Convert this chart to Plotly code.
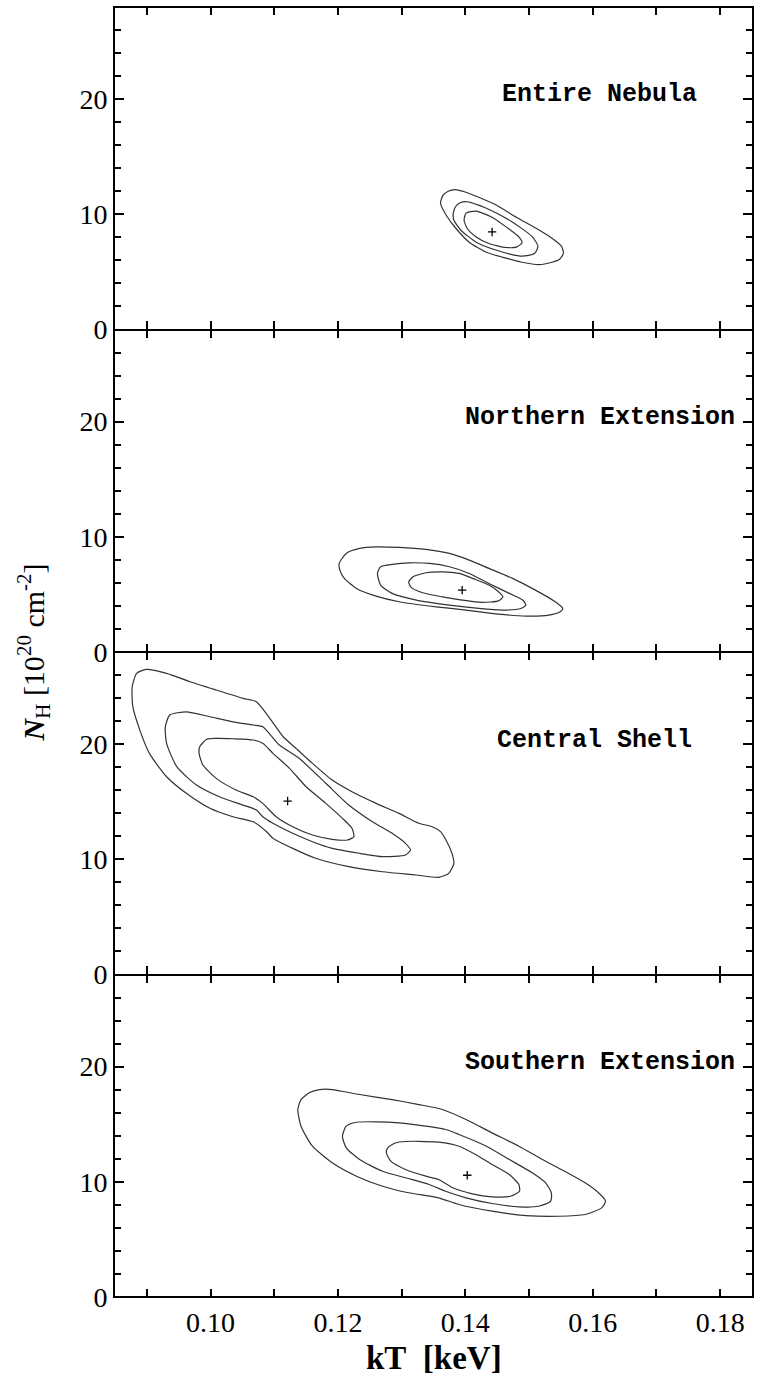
import plotly.graph_objects as go
from plotly.subplots import make_subplots

# ---------------- data ----------------
panel_names = ["Entire Nebula", "Northern Extension", "Central Shell", "Southern Extension"]

x_ticks = [0.09, 0.10, 0.11, 0.12, 0.13, 0.14, 0.15, 0.16, 0.17, 0.18]
x_tick_labels = ["", "0.10", "", "0.12", "", "0.14", "", "0.16", "", "0.18"]
y_ticks = [0, 10, 20]
y_tick_labels = ["0", "10", "20"]

# Entire Nebula
en_outer_kt = [0.1361, 0.1365, 0.1373, 0.1384, 0.1401, 0.1421, 0.1449, 0.1480, 0.1511, 0.1536, 0.1551,
               0.1554, 0.1548, 0.1536, 0.1515, 0.1489, 0.1464, 0.1433, 0.1406, 0.1385, 0.1370]
en_outer_nh = [10.96, 11.66, 12.00, 12.14, 11.92, 11.48, 10.79, 9.75, 8.79, 7.93, 7.23,
               6.62, 6.10, 5.84, 5.63, 5.84, 6.19, 6.71, 7.58, 8.79, 9.92]
en_mid_kt = [0.1381, 0.1385, 0.1392, 0.1403, 0.1433, 0.1473, 0.1505, 0.1514, 0.1509, 0.1497, 0.1484,
             0.1449, 0.1417, 0.1393, 0.1382]
en_mid_nh = [10.10, 10.70, 11.01, 11.09, 10.53, 9.36, 8.06, 7.23, 6.62, 6.41, 6.39,
             6.88, 7.58, 8.62, 9.49]
en_inner_kt = [0.1398, 0.1401, 0.1417, 0.1441, 0.1464, 0.1484, 0.1489, 0.1481, 0.1464, 0.1437, 0.1417, 0.1403]
en_inner_nh = [9.49, 10.10, 10.27, 9.77, 8.91, 8.04, 7.55, 7.17, 7.12, 7.47, 8.04, 8.77]
en_best = (0.1442, 8.47)

# Northern Extension
ne_outer_kt = [0.1202, 0.1213, 0.1234, 0.1260, 0.1296, 0.1338, 0.1375, 0.1406, 0.1437, 0.1474, 0.1510, 0.1541,
               0.1553, 0.1549, 0.1531, 0.1495, 0.1452, 0.1401, 0.1354, 0.1296, 0.1260, 0.1229, 0.1210, 0.1203]
ne_outer_nh = [7.69, 8.56, 8.99, 9.13, 9.08, 8.91, 8.56, 7.98, 7.26, 6.39, 5.37, 4.36,
               3.78, 3.49, 3.20, 3.12, 3.29, 3.64, 3.92, 4.36, 4.85, 5.52, 6.39, 7.11]
ne_mid_kt = [0.1262, 0.1267, 0.1285, 0.1312, 0.1344, 0.1375, 0.1406, 0.1437, 0.1469, 0.1490, 0.1495,
             0.1487, 0.1458, 0.1421, 0.1375, 0.1323, 0.1285, 0.1267]
ne_mid_nh = [6.82, 7.40, 7.60, 7.74, 7.69, 7.40, 6.82, 5.95, 5.09, 4.51, 4.07,
             3.78, 3.64, 3.78, 4.07, 4.51, 5.09, 5.81]
ne_inner_kt = [0.1311, 0.1318, 0.1338, 0.1364, 0.1390, 0.1416, 0.1437, 0.1452, 0.1459, 0.1452, 0.1426,
               0.1395, 0.1364, 0.1333, 0.1315]
ne_inner_nh = [6.09, 6.53, 6.88, 6.96, 6.82, 6.30, 5.81, 5.23, 4.79, 4.44, 4.31,
               4.51, 4.79, 5.14, 5.61]
ne_best = (0.1395, 5.37)

# Central Shell
cs_outer_kt = [0.0899, 0.0884, 0.0877, 0.0878, 0.0889, 0.0904, 0.0931, 0.0962, 0.0999, 0.1035, 0.1067,
               0.1088, 0.1098, 0.1129, 0.1165, 0.1217, 0.1270, 0.1322, 0.1358, 0.1374, 0.1382, 0.1379,
               0.1371, 0.1361, 0.1348, 0.1327, 0.1296, 0.1260, 0.1222, 0.1191, 0.1160, 0.1134, 0.1114,
               0.1093, 0.1072, 0.1051, 0.1009, 0.0968, 0.0931]
cs_outer_nh = [26.49, 26.15, 24.98, 23.25, 21.22, 19.20, 17.17, 15.73, 14.43, 13.70, 13.26,
               12.40, 11.82, 10.95, 10.09, 9.36, 8.92, 8.64, 8.44, 8.78, 9.65, 10.52,
               11.53, 12.40, 12.83, 13.13, 13.99, 14.86, 15.87, 16.88, 18.33, 19.64, 20.64,
               22.24, 23.68, 23.98, 24.70, 25.42, 26.15]
cs_mid_kt = [0.0962, 0.0936, 0.0929, 0.0931, 0.0947, 0.0978, 0.1014, 0.1051, 0.1072, 0.1082, 0.1098,
             0.1129, 0.1160, 0.1191, 0.1234, 0.1270, 0.1306, 0.1314, 0.1306, 0.1285, 0.1254, 0.1217,
             0.1181, 0.1139, 0.1108, 0.1082, 0.1067, 0.1035, 0.0999]
cs_mid_nh = [22.81, 22.53, 21.51, 20.07, 18.04, 16.45, 15.43, 14.71, 14.28, 13.70, 13.13,
             12.26, 11.53, 10.95, 10.52, 10.23, 10.37, 10.81, 11.39, 12.26, 13.26, 14.71,
             16.60, 18.77, 19.92, 21.51, 21.66, 21.94, 22.38]
cs_inner_kt = [0.0994, 0.0983, 0.0982, 0.0988, 0.1009, 0.1040, 0.1067, 0.1082, 0.1103, 0.1129, 0.1160,
               0.1191, 0.1215, 0.1225, 0.1222, 0.1207, 0.1181, 0.1150, 0.1124, 0.1098, 0.1082, 0.1067,
               0.1035, 0.1009]
cs_inner_nh = [20.42, 19.77, 19.20, 18.19, 17.03, 16.02, 15.43, 14.86, 13.70, 12.83, 12.11,
               11.74, 11.68, 11.96, 12.69, 13.56, 14.86, 16.30, 17.90, 19.20, 20.07, 20.36,
               20.47, 20.50]
cs_best = (0.1121, 15.06)

# Southern Extension
se_outer_kt = [0.1155, 0.1142, 0.1137, 0.1142, 0.1160, 0.1191, 0.1229, 0.1270, 0.1311, 0.1358, 0.1390,
               0.1442, 0.1495, 0.1547, 0.1588, 0.1614, 0.1620, 0.1609, 0.1588, 0.1556, 0.1521, 0.1484,
               0.1442, 0.1401, 0.1364, 0.1327, 0.1285, 0.1234, 0.1191, 0.1171]
se_outer_nh = [17.73, 17.14, 16.28, 14.83, 13.09, 11.65, 10.49, 9.62, 9.05, 8.61, 8.03,
               7.45, 7.07, 7.01, 7.16, 7.74, 8.32, 9.05, 9.91, 10.92, 11.94, 13.09,
               14.25, 15.41, 16.28, 16.71, 17.14, 17.58, 18.01, 18.01]
se_mid_kt = [0.1229, 0.1213, 0.1207, 0.1213, 0.1234, 0.1270, 0.1306, 0.1343, 0.1369, 0.1401, 0.1442,
             0.1484, 0.1515, 0.1534, 0.1535, 0.1526, 0.1505, 0.1469, 0.1433, 0.1390, 0.1369, 0.1338,
             0.1296, 0.1260]
se_mid_nh = [15.17, 14.83, 13.96, 12.95, 11.94, 10.92, 10.35, 9.77, 9.18, 8.61, 8.12,
             7.83, 7.88, 8.32, 9.05, 9.91, 10.78, 11.94, 13.09, 14.11, 14.54, 14.83,
             15.12, 15.21]
se_inner_kt = [0.1291, 0.1278, 0.1276, 0.1283, 0.1306, 0.1338, 0.1358, 0.1380, 0.1411, 0.1442, 0.1471,
               0.1485, 0.1484, 0.1469, 0.1442, 0.1416, 0.1390, 0.1358, 0.1327, 0.1306]
se_inner_nh = [13.39, 12.95, 12.52, 11.79, 11.07, 10.49, 10.20, 9.48, 8.96, 8.70, 8.75,
               9.18, 9.77, 10.63, 11.50, 12.37, 13.09, 13.44, 13.52, 13.50]
se_best = (0.1403, 10.57)

label_kt = [0.1611, 0.1611, 0.1602, 0.1611]
label_nh = [20.4, 20.4, 20.3, 20.4]

# ---------------- figure ----------------
panels = [
    ([(en_outer_kt, en_outer_nh), (en_mid_kt, en_mid_nh), (en_inner_kt, en_inner_nh)], en_best),
    ([(ne_outer_kt, ne_outer_nh), (ne_mid_kt, ne_mid_nh), (ne_inner_kt, ne_inner_nh)], ne_best),
    ([(cs_outer_kt, cs_outer_nh), (cs_mid_kt, cs_mid_nh), (cs_inner_kt, cs_inner_nh)], cs_best),
    ([(se_outer_kt, se_outer_nh), (se_mid_kt, se_mid_nh), (se_inner_kt, se_inner_nh)], se_best),
]

fig = make_subplots(rows=4, cols=1, shared_xaxes=True, vertical_spacing=0)

for i, (contours, best) in enumerate(panels):
    row = i + 1
    for kt, nh in contours:
        fig.add_trace(go.Scatter(
            x=list(kt) + [kt[0]], y=list(nh) + [nh[0]], mode="lines",
            line=dict(color="#333333", width=1.2, shape="spline", smoothing=0.6),
            showlegend=False, hoverinfo="skip"), row=row, col=1)
    fig.add_trace(go.Scatter(
        x=[best[0]], y=[best[1]], mode="markers",
        marker=dict(symbol="cross-thin", size=6, line=dict(color="black", width=1.3)),
        showlegend=False), row=row, col=1)
    sfx = "" if row == 1 else str(row)
    fig.add_annotation(
        x=label_kt[i], y=label_nh[i], xref="x" + sfx, yref="y" + sfx,
        text=f"<b>{panel_names[i]}</b>", showarrow=False, xanchor="center", yanchor="middle",
        font=dict(family="Liberation Mono", size=25, color="black"))

tickfont = dict(family="Liberation Serif", size=28, color="black")
for row in range(1, 5):
    fig.update_xaxes(
        range=[0.085, 0.185], tickmode="array", tickvals=x_ticks, ticktext=x_tick_labels,
        ticks="inside", ticklen=8, tickwidth=1.5, tickcolor="black",
        showline=True, linecolor="black", linewidth=1.1, mirror="ticks",
        showgrid=False, zeroline=False, tickfont=tickfont,
        row=row, col=1)
    fig.update_yaxes(
        range=[0, 28], tickmode="array", tickvals=y_ticks, ticktext=y_tick_labels,
        ticks="inside", ticklen=9, tickwidth=1.5, tickcolor="black",
        minor=dict(dtick=2, tick0=0, ticks="inside", ticklen=6, tickwidth=1.5, tickcolor="black"),
        showline=True, linecolor="black", linewidth=1.8, mirror="ticks",
        showgrid=False, zeroline=False, tickfont=tickfont,
        row=row, col=1)

fig.update_xaxes(showticklabels=True, row=4, col=1)

# thicker outer top/bottom frame edges
fig.add_shape(type="line", xref="paper", yref="paper", x0=0, x1=1, y0=1, y1=1,
              line=dict(color="black", width=1.8))
fig.add_shape(type="line", xref="paper", yref="paper", x0=0, x1=1, y0=0, y1=0,
              line=dict(color="black", width=1.8))

fig.add_annotation(
    xref="paper", yref="paper", x=0.5, y=-0.047, yanchor="middle", xanchor="center",
    text="<b>kT&nbsp;&nbsp;[keV]</b>", showarrow=False,
    font=dict(family="Liberation Serif", size=33, color="black"))
fig.add_annotation(
    xref="paper", yref="paper", x=-0.128, y=0.5, xanchor="center", yanchor="middle",
    textangle=-90, showarrow=False,
    text="<b><i>N</i></b><sub>H</sub> [10<sup>20</sup> cm<sup>-2</sup>]",
    font=dict(family="Liberation Serif", size=30, color="black"))

fig.update_layout(
    width=759, height=1389,
    margin=dict(l=115, r=5, t=7, b=92),
    paper_bgcolor="white", plot_bgcolor="white",
    showlegend=False,
)

fig.write_html(
    "out.html",
    config={"displayModeBar": False},
    post_script="document.body.style.margin='0';document.body.style.padding='0';"
                "document.body.style.overflow='hidden';document.documentElement.style.overflow='hidden';")
